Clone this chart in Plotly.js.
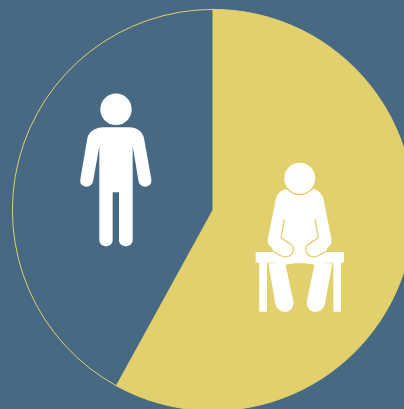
<!DOCTYPE html>
<html>
<head>
<meta charset="utf-8">
<script src="https://cdn.plot.ly/plotly-3.0.1.min.js"></script>
<style>
  html, body { margin: 0; padding: 0; width: 404px; height: 409px; overflow: hidden; background: #476983; }
  #chart { width: 426px; height: 420px; }
</style>
</head>
<body>
<div id="chart"></div>
<script>
// Share of each group, clockwise from twelve o'clock
const groups = ["Seated", "Standing"];
const shares = [58, 42];

const BLUE = "#476983";
const YELLOW = "#E2D06C";
const WHITE = "#FFFFFF";

// Drawing surface, larger than the window so the disc runs off the right edge
const W = 426, H = 420;
const CX = 213, CY = 210, R = 200.6;

const toPaperX = x => (x / W).toFixed(5);
const toPaperY = y => (1 - y / H).toFixed(5);

// Icon outlines are authored at 3x around a local origin; this places them on the page
function place(cmds, ox, oy) {
  return cmds.map(c => {
    const parts = [c[0]];
    for (let i = 1; i < c.length; i += 2) {
      parts.push(toPaperX(ox + c[i] / 3) + "," + toPaperY(oy + c[i + 1] / 3));
    }
    return parts[0] + parts.slice(1).join(" ");
  }).join(" ");
}

function pathShape(cmds, ox, oy, fill, line, lw) {
  return {
    type: "path", xref: "paper", yref: "paper", layer: "above",
    path: place(cmds, ox, oy),
    fillcolor: fill || "rgba(0,0,0,0)",
    line: { color: line || "rgba(0,0,0,0)", width: lw || 0 }
  };
}

function circleShape(cx, cy, r, fill, line, lw) {
  return {
    type: "circle", xref: "paper", yref: "paper", layer: "above",
    x0: toPaperX(cx - r), x1: toPaperX(cx + r),
    y0: toPaperY(cy + r), y1: toPaperY(cy - r),
    fillcolor: fill,
    line: { color: line || "rgba(0,0,0,0)", width: lw || 0 }
  };
}

// Standing figure
const standingBody = [
  ["M", 100, 127], ["L", 178, 127],
  ["C", 200, 127, 218, 140, 222, 160],
  ["L", 244, 283],
  ["C", 248, 310, 208, 314, 205, 285],
  ["L", 188, 183],
  ["L", 188, 465],
  ["C", 188, 490, 147, 490, 147, 465],
  ["L", 147, 322], ["L", 128, 322], ["L", 128, 465],
  ["C", 128, 490, 88, 490, 88, 465],
  ["L", 88, 183],
  ["L", 70, 285],
  ["C", 66, 314, 26, 310, 31, 283],
  ["L", 52, 160],
  ["C", 56, 140, 78, 127, 100, 127],
  ["Z"]
];

// Bench under the seated figure
const bench = [
  ["M", 32, 291], ["L", 297, 291], ["L", 297, 323], ["L", 288, 323],
  ["L", 288, 470], ["L", 265, 470], ["L", 265, 323], ["L", 66, 323],
  ["L", 66, 470], ["L", 43, 470], ["L", 43, 323], ["L", 32, 323],
  ["Z"]
];

// Seated figure: torso, arms and legs
const seatedBody = [
  ["M", 122, 103],
  ["C", 105, 107, 95, 118, 92, 135],
  ["L", 68, 255],
  ["C", 67, 265, 72, 272, 82, 280],
  ["L", 92, 325], ["L", 70, 325],
  ["L", 90, 440],
  ["C", 95, 482, 150, 480, 145, 438],
  ["L", 122, 330],
  ["C", 135, 323, 195, 323, 208, 330],
  ["L", 186, 438],
  ["C", 181, 480, 236, 482, 241, 440],
  ["L", 262, 325], ["L", 240, 325],
  ["L", 246, 280],
  ["C", 256, 272, 261, 265, 260, 255],
  ["L", 236, 135],
  ["C", 233, 118, 223, 107, 206, 103],
  ["Z"]
];

// Contour lines that separate the forearms from the torso and bench
const leftForearm = [
  ["M", 118, 193], ["L", 108, 248], ["L", 138, 268],
  ["C", 150, 278, 148, 298, 128, 305],
  ["C", 116, 309, 100, 300, 78, 285]
];
const rightForearm = [
  ["M", 210, 193], ["L", 220, 248], ["L", 190, 268],
  ["C", 178, 278, 180, 298, 200, 305],
  ["C", 212, 309, 228, 300, 250, 285]
];

const shapes = [
  circleShape(116, 109.3, 15.7, WHITE),
  pathShape(standingBody, 70, 85, WHITE),
  pathShape(bench, 245, 155, WHITE),
  pathShape(seatedBody, 245, 155, WHITE),
  pathShape(leftForearm, 245, 155, null, YELLOW, 1.3),
  pathShape(rightForearm, 245, 155, null, YELLOW, 1.3),
  circleShape(299.7, 178.3, 16.2, WHITE, YELLOW, 1.5)
];

const trace = {
  type: "pie",
  labels: groups,
  values: shares,
  sort: false,
  direction: "clockwise",
  rotation: 0,
  textinfo: "none",
  hoverinfo: "none",
  showlegend: false,
  marker: { colors: [YELLOW, BLUE], line: { color: YELLOW, width: 1 } },
  domain: {
    x: [(CX - R) / W, (CX + R) / W],
    y: [1 - (CY + R) / H, 1 - (CY - R) / H]
  }
};

const layout = {
  width: W, height: H,
  margin: { l: 0, r: 0, t: 0, b: 0, pad: 0 },
  paper_bgcolor: BLUE,
  plot_bgcolor: BLUE,
  showlegend: false,
  shapes: shapes
};

Plotly.newPlot("chart", [trace], layout, { staticPlot: true, displayModeBar: false });
</script>
</body>
</html>
